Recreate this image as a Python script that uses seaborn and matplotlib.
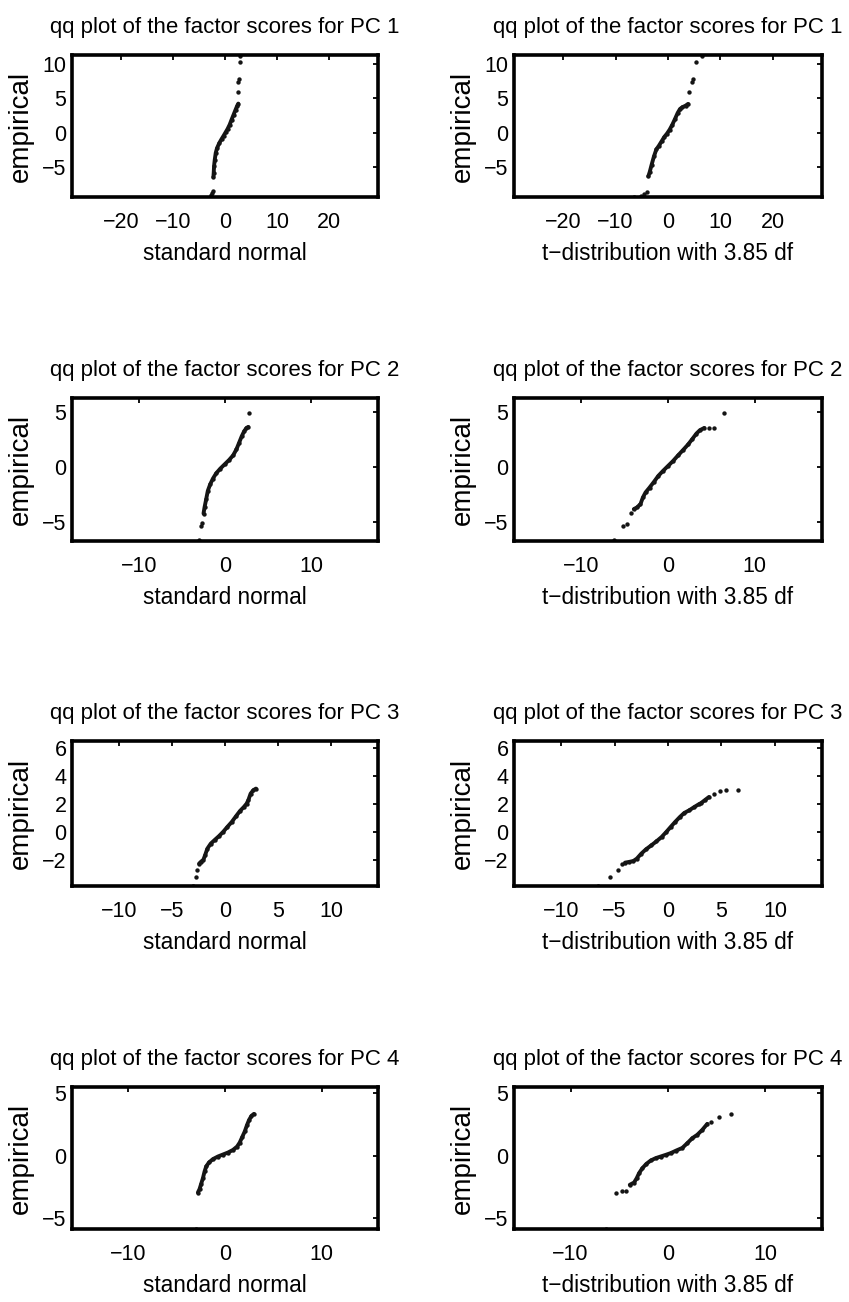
import matplotlib
matplotlib.use("Agg")
import matplotlib.pyplot as plt
import seaborn as sns
from matplotlib import font_manager

# ---------------- data ----------------
# PC 1
pc1_norm_x = [-2.85, -2.65, -2.45, -2.3,
              -2.23, -2.17, -2.1, -1.97, -1.78, -1.53, -1.08, -0.64, -0.25, 0.13, 0.5, 0.9, 1.27, 1.66, 2.04, 2.36, 2.55,
              2.42, 2.5, 2.6, 2.8, 2.95]
pc1_norm_y = [-9.3, -9.0, -8.7, -8.5,
              -6.4, -5.8, -4.8, -3.9, -2.9, -2.2, -1.45, -0.87, -0.39, 0.1, 0.58, 1.2, 1.93, 2.66, 3.38, 3.96, 4.25,
              6.0, 7.4, 7.8, 10.3, 11.1]
pc1_norm_core = (4, 21)
pc1_t_x = [-6.5, -5.2, -4.6, -4.1,
           -3.76, -3.5, -3.12, -2.68, -2.23, -1.72, -1.2, -0.7, -0.19, 0.32, 0.83, 1.34, 1.85, 2.3, 2.74, 3.38, 3.82,
           4.0, 4.5, 4.8, 5.4, 6.4]
pc1_t_y = [-9.3, -9.1, -8.85, -8.55,
           -6.3, -5.7, -4.6, -3.4, -2.4, -1.84, -1.2, -0.58, -0.1, 0.48, 1.2, 2.03, 2.9, 3.48, 3.72, 3.96, 4.2,
           6.0, 7.4, 7.8, 10.3, 11.1]
pc1_t_core = (4, 21)

# PC 2
pc2_norm_x = [-3.05, -2.77, -2.66,
              -2.5, -2.38, -2.19, -2.0, -1.72, -1.4, -1.02, -0.55, -0.04, 0.47, 0.94, 1.33, 1.64, 1.95, 2.23, 2.5, 2.7,
              2.81]
pc2_norm_y = [-6.6, -5.3, -5.1,
              -4.2, -3.64, -2.9, -2.14, -1.54, -1.02, -0.54, -0.12, 0.27, 0.66, 1.08, 1.63, 2.23, 2.83, 3.28, 3.58, 3.67,
              4.94]
pc2_norm_core = (3, 20)
pc2_t_x = [-6.28, -5.23, -4.69, -4.22,
           -3.95, -3.57, -3.18, -2.9, -2.6, -2.13, -1.63, -1.12, -0.58, 0.0, 0.58, 1.16, 1.74, 2.33, 2.83, 3.29, 3.68, 4.19,
           4.77, 5.35, 6.43]
pc2_t_y = [-6.6, -5.3, -5.12, -4.16,
           -3.8, -3.64, -3.34, -2.74, -2.29, -1.84, -1.33, -0.78, -0.33, 0.12, 0.57, 1.08, 1.57, 2.08, 2.59, 3.07, 3.37, 3.58,
           3.58, 3.58, 4.94]
pc2_t_core = (4, 22)

# PC 3
pc3_norm_x = [-2.97, -2.75, -2.6,
              -2.44, -2.25, -2.03, -1.88, -1.66, -1.34, -0.94, -0.56, -0.16, 0.22, 0.63, 1.03, 1.41, 1.78, 2.03, 2.19,
              2.41, 2.66, 2.91]
pc3_norm_y = [-3.88, -3.21, -2.69,
              -2.26, -2.12, -1.98, -1.67, -1.19, -0.83, -0.55, -0.29, 0.02, 0.36, 0.71, 1.12, 1.5, 1.79, 2.02, 2.26,
              2.74, 2.98, 3.1]
pc3_norm_core = (3, 22)
pc3_t_x = [-6.55, -5.38, -4.72, -4.27,
           -4.02, -3.64, -3.23, -2.91, -2.5, -2.06, -1.55, -1.08, -0.6, -0.16, 0.25, 0.66, 1.11, 1.52, 1.99, 2.47, 2.88,
           3.1, 3.42, 3.83,
           4.27, 4.84, 5.47, 6.58]
pc3_t_y = [-3.88, -3.21, -2.69, -2.26,
           -2.19, -2.14, -2.07, -1.9, -1.55, -1.24, -0.95, -0.67, -0.36, 0.0, 0.36, 0.71, 1.07, 1.36, 1.55, 1.79, 1.98,
           2.07, 2.26, 2.5,
           2.69, 2.93, 2.98, 3.02]
pc3_t_core = (4, 24)

# PC 4
pc4_norm_x = [-2.98,
              -2.8, -2.63, -2.46, -2.28, -2.11, -1.94, -1.66, -1.25, -0.73, -0.21, 0.31, 0.83, 1.25, 1.52, 1.8, 2.04,
              2.28, 2.49, 2.73, 2.98]
pc4_norm_y = [-5.9,
              -2.97, -2.7, -2.27, -1.82, -1.28, -0.88, -0.56, -0.29, -0.08, 0.08, 0.24, 0.45, 0.72, 1.04, 1.52, 1.93,
              2.46, 2.86, 3.18, 3.34]
pc4_norm_core = (1, 21)
pc4_t_x = [-6.38, -5.29, -4.68, -4.33,
           -3.92, -3.48, -3.21, -2.97, -2.63, -2.22, -1.77, -1.26, -0.75, -0.24, 0.27, 0.85, 1.47, 1.98, 2.49, 3.0,
           3.52, 4.03,
           4.37, 5.22, 6.42]
pc4_t_y = [-5.9, -2.97, -2.83, -2.81,
           -2.35, -2.17, -1.82, -1.42, -1.02, -0.67, -0.4, -0.21, -0.08, 0.05, 0.19, 0.4, 0.61, 0.99, 1.39, 1.66,
           2.06, 2.54,
           2.65, 3.13, 3.32]
pc4_t_core = (4, 22)

pc_labels = ["PC 1", "PC 2", "PC 3", "PC 4"]
xlabels = ["standard normal", "t\u2212distribution with 3.85 df"]
ylabel = "empirical"

xlims = [(-29.4, 29.4), (-17.8, 17.8), (-14.4, 14.4), (-15.8, 15.8)]
ylims = [(-9.3, 11.3), (-6.7, 6.3), (-3.86, 6.5), (-5.9, 5.5)]
xticks = [[-20, -10, 0, 10, 20], [-10, 0, 10], [-10, -5, 0, 5, 10], [-10, 0, 10]]
yticks = [[-5, 0, 5, 10], [-5, 0, 5], [-2, 0, 2, 4, 6], [-5, 0, 5]]

panels = [
    [(pc1_norm_x, pc1_norm_y, pc1_norm_core), (pc1_t_x, pc1_t_y, pc1_t_core)],
    [(pc2_norm_x, pc2_norm_y, pc2_norm_core), (pc2_t_x, pc2_t_y, pc2_t_core)],
    [(pc3_norm_x, pc3_norm_y, pc3_norm_core), (pc3_t_x, pc3_t_y, pc3_t_core)],
    [(pc4_norm_x, pc4_norm_y, pc4_norm_core), (pc4_t_x, pc4_t_y, pc4_t_core)],
]

# ---------------- styling ----------------
sns.set_style("white")
installed = {f.name for f in font_manager.fontManager.ttflist}
regular = [n for n in ["Liberation Sans", "DejaVu Sans"] if n in installed]
plt.rcParams['font.family'] = regular
plt.rcParams['axes.unicode_minus'] = True
plt.rcParams['text.color'] = 'black'
plt.rcParams['axes.labelcolor'] = 'black'
plt.rcParams['xtick.color'] = 'black'
plt.rcParams['ytick.color'] = 'black'

W, H = 849, 1302
fig = plt.figure(figsize=(W / 100, H / 100), dpi=100)
fig.patch.set_facecolor("white")

col_px = [(72, 378), (514, 822)]
row_px = [(55, 197), (398, 541), (741, 886), (1087, 1229)]
dot_color = "#151515"

for r in range(4):
    for c in range(2):
        x0, x1 = col_px[c]
        y0, y1 = row_px[r]
        ax = fig.add_axes([x0 / W, 1 - y1 / H, (x1 - x0) / W, (y1 - y0) / H])
        xs, ys, (a, b) = panels[r][c]
        sns.lineplot(x=xs[a:b], y=ys[a:b], sort=False, estimator=None, ax=ax,
                     color=dot_color, lw=2.8, solid_capstyle="round")
        sns.scatterplot(x=xs, y=ys, ax=ax, s=10, color=dot_color, linewidth=0, marker="o")
        ax.set_xlim(*xlims[r])
        ax.set_ylim(*ylims[r])
        ax.set_xticks(xticks[r])
        ax.set_yticks(yticks[r])
        ax.tick_params(axis="both", direction="in", top=True, right=True,
                       length=3.5, width=1.3, colors="black", labelcolor="black",
                       labelsize=15.5)
        ax.tick_params(axis="x", pad=11)
        ax.tick_params(axis="y", pad=4)
        for sp in ax.spines.values():
            sp.set_linewidth(2.6)
            sp.set_color("black")
        ax.set_title("qq plot of the factor scores for " + pc_labels[r],
                     fontsize=16, pad=16, color="black")
        ax.set_xlabel(xlabels[c], fontsize=16.3, labelpad=6, color="black")
        ax.set_ylabel(ylabel, fontsize=20, labelpad=6, color="black")
        ax.grid(False)

fig.savefig("out.png", dpi=100, facecolor="white")
